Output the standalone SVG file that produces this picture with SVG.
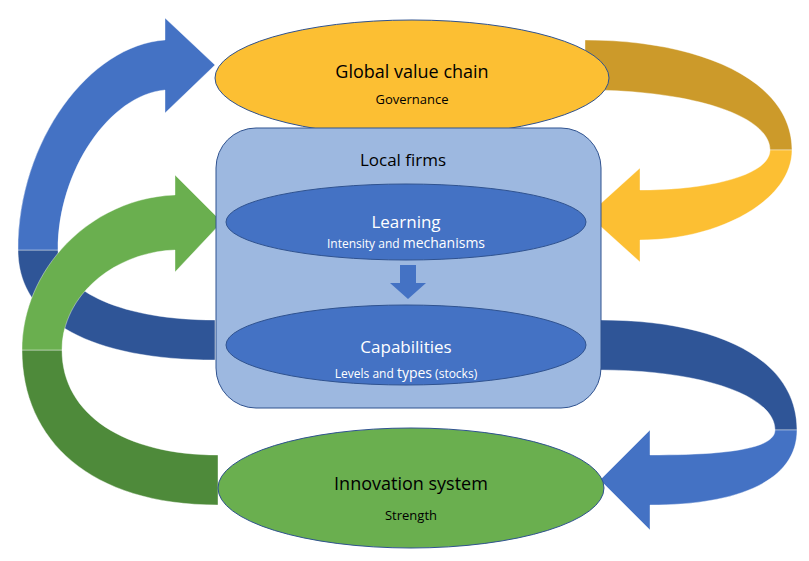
<svg xmlns="http://www.w3.org/2000/svg" width="809" height="561" viewBox="0 0 809 561">
<style>
.t{font-family:"Open Sans","Liberation Sans",sans-serif;text-anchor:middle}
.n{stroke:#2F528F;stroke-width:1}
.a{stroke:#ffffff;stroke-opacity:0.4;stroke-width:1}
</style>
<rect width="809" height="561" fill="#fff"/>
<g id="connectors">
<path class="a" fill="#2F5597" d="M215,360 C90,360 18,320 18,250 L58,250 C58,290 120,320 215,320 Z"/>
<path class="a" fill="#4472C4" d="M18,250 C18,140 90,45 165,40 L165,18 L215,65 L165,113 L165,90 C110,95 58,170 58,250 Z"/>
<path class="a" fill="#4E8A3A" d="M218,505 C90,505 22,440 22,350 L62,350 C62,415 125,455 218,455 Z"/>
<path class="a" fill="#6AAF4F" d="M22,350 C22,270 90,198 175,195 L175,175 L222,222 L175,272 L175,250 C115,252 62,295 62,350 Z"/>
<path class="a" fill="#CC9A2A" d="M585,40 C700,40 792,80 792,150 L770,150 C770,115 690,90 585,90 Z"/>
<path class="a" fill="#FCBF33" d="M792,150 C792,200 720,240 640,240 L640,262 L588,215 L640,168 L640,190 C710,190 770,175 770,150 Z"/>
<path class="a" fill="#2F5597" d="M600,320 C720,320 797,360 797,430 L775,430 C775,395 700,370 600,370 Z"/>
<path class="a" fill="#4472C4" d="M797,430 C797,480 740,505 650,505 L650,530 L600,480 L650,430 L650,455 C720,455 775,450 775,430 Z"/>
</g>
<g id="gvc">
<ellipse class="n" cx="412" cy="78" rx="197" ry="58" fill="#FCBF33"/>
<text class="t" x="412" y="78" font-size="18">Global value chain</text>
<text class="t" x="412" y="104" font-size="13">Governance</text>
</g>
<g id="local">
<rect class="n" x="216" y="128" width="385" height="280" rx="40" fill="#9DB8E0"/>
<text class="t" x="403" y="166" font-size="17">Local firms</text>
</g>
<g id="learning">
<ellipse class="n" cx="406" cy="222" rx="180" ry="38" fill="#4472C4"/>
<text class="t" x="406" y="228" font-size="17" fill="#fff">Learning</text>
<text class="t" x="406" y="248" font-size="12" fill="#fff">Intensity and <tspan font-size="14">mechanisms</tspan></text>
</g>
<g id="down">
<path fill="#4472C4" d="M400,265 H416 V283 H426 L408,299 L390,283 H400 Z"/>
</g>
<g id="capabilities">
<ellipse class="n" cx="406" cy="345" rx="180" ry="40" fill="#4472C4"/>
<text class="t" x="406" y="353" font-size="17" fill="#fff">Capabilities</text>
<text class="t" x="406" y="378" font-size="12" fill="#fff">Levels and <tspan font-size="14">types</tspan> (stocks)</text>
</g>
<g id="innovation">
<ellipse class="n" cx="411" cy="488" rx="193" ry="60" fill="#6AAF4F"/>
<text class="t" x="411" y="490" font-size="18">Innovation system</text>
<text class="t" x="411" y="520" font-size="13">Strength</text>
</g>
</svg>
